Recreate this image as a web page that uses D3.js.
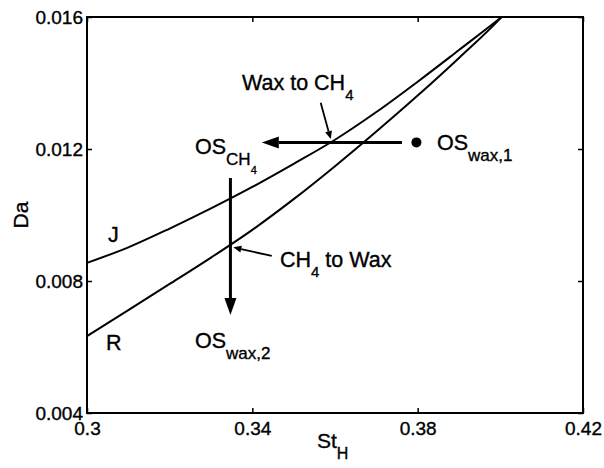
<!DOCTYPE html>
<html>
<head>
<meta charset="utf-8">
<script src="https://cdn.jsdelivr.net/npm/d3@7"></script>
<style>
  html, body { margin: 0; padding: 0; background: #fff; }
  svg text { font-family: "Liberation Sans", Arial, Helvetica, sans-serif; fill: #000; stroke: #000; stroke-width: 0.35px; }
</style>
</head>
<body>
<svg id="chart" width="604" height="468"></svg>
<script>
// ---- data ----
const stH      = [0.30, 0.31, 0.32, 0.33, 0.34, 0.35, 0.36, 0.37, 0.38, 0.39, 0.40, 0.4003];
const curveJ   = [0.00855, 0.00902, 0.00959, 0.01020, 0.01085, 0.01155, 0.01228, 0.01312, 0.01404, 0.01500, 0.01597, 0.0160];
const curveR   = [0.00633, 0.00712, 0.00791, 0.00871, 0.00955, 0.01048, 0.01148, 0.01253, 0.01362, 0.01476, 0.01596, 0.0160];
const xTicks   = [0.30, 0.34, 0.38, 0.42];
const xTickLabels = ["0.3", "0.34", "0.38", "0.42"];
const yTicks   = [0.004, 0.008, 0.012, 0.016];
const yTickLabels = ["0.004", "0.008", "0.012", "0.016"];
// operating point and transitions (St_H, Da)
const osWax1   = [0.3797, 0.0122];
const bigArrows = [
  {from: [0.3762, 0.0122], to: [0.3423, 0.0122]},   // wax -> CH4
  {from: [0.3347, 0.01112], to: [0.3347, 0.00697]}  // CH4 -> wax
];
const pointerArrows = [
  {from: [0.35654, 0.01340], to: [0.35896, 0.01230]},
  {from: [0.34469, 0.00876], to: [0.33540, 0.00902]}
];
// labels: [main, subscript, sub-subscript], anchor (St_H, Da)
const labels = [
  {parts: ["Wax to CH", "4", ""], at: [0.33750, 0.013788], kind: "inline"},
  {parts: ["OS", "CH", "4"],      at: [0.32613, 0.011848], kind: "os"},
  {parts: ["OS", "wax,1", ""],    at: [0.38468, 0.011970], kind: "os"},
  {parts: ["OS", "wax,2", ""],    at: [0.32613, 0.005970], kind: "os"},
  {parts: ["CH", "4", " to Wax"], at: [0.34669, 0.008424], kind: "inline2"},
  {parts: ["J", "", ""],          at: [0.30508, 0.009182], kind: "plain"},
  {parts: ["R", "", ""],          at: [0.30460, 0.005909], kind: "plain"}
];

// ---- layout ----
const svg = d3.select("#chart");
const L = 87, R = 583, T = 17, B = 413;
const x = d3.scaleLinear().domain([0.3, 0.42]).range([L, R]);
const y = d3.scaleLinear().domain([0.004, 0.016]).range([B, T]);

// axes
const fmtX = d => xTickLabels[xTicks.indexOf(d)];
const fmtY = d => yTickLabels[yTicks.indexOf(d)];

const gx = svg.append("g").attr("transform", `translate(0,${B})`)
  .call(d3.axisBottom(x).tickValues(xTicks).tickFormat(fmtX).tickSize(-5).tickPadding(9));
const gy = svg.append("g").attr("transform", `translate(${L},0)`)
  .call(d3.axisLeft(y).tickValues(yTicks).tickFormat(fmtY).tickSize(-5).tickPadding(4));
const gt = svg.append("g").attr("transform", `translate(0,${T})`)
  .call(d3.axisTop(x).tickValues(xTicks).tickFormat("").tickSize(-5));
const gr = svg.append("g").attr("transform", `translate(${R},0)`)
  .call(d3.axisRight(y).tickValues(yTicks).tickFormat("").tickSize(-5));
[gx, gy, gt, gr].forEach(g => {
  g.select(".domain").remove();
  g.selectAll(".tick line").attr("stroke", "#000").attr("stroke-width", 1.5);
  g.selectAll(".tick text").attr("font-size", 19).attr("font-family", "Liberation Sans, Arial, sans-serif");
});

// frame
svg.append("rect").attr("x", L).attr("y", T).attr("width", R - L).attr("height", B - T)
  .attr("fill", "none").attr("stroke", "#000").attr("stroke-width", 2);

// curves
const line = d3.line().x(d => x(d[0])).y(d => y(d[1])).curve(d3.curveMonotoneX);
[curveJ, curveR].forEach(vals => {
  svg.append("path").datum(stH.map((s, i) => [s, vals[i]]))
    .attr("d", line).attr("fill", "none").attr("stroke", "#000").attr("stroke-width", 2);
});

// arrows
function arrow(a, len, half, width) {
  const x0 = x(a.from[0]), y0 = y(a.from[1]), x1 = x(a.to[0]), y1 = y(a.to[1]);
  const ang = Math.atan2(y1 - y0, x1 - x0);
  const bx = x1 - len * Math.cos(ang), by = y1 - len * Math.sin(ang);
  svg.append("line").attr("x1", x0).attr("y1", y0).attr("x2", bx).attr("y2", by)
    .attr("stroke", "#000").attr("stroke-width", width);
  const px = -Math.sin(ang), py = Math.cos(ang);
  svg.append("polygon")
    .attr("points", [[x1, y1], [bx + half * px, by + half * py], [bx - half * px, by - half * py]].map(p => p.join(",")).join(" "))
    .attr("fill", "#000");
}
bigArrows.forEach(a => arrow(a, 17, 6, 3));
pointerArrows.forEach(a => arrow(a, 8, 3.5, 1.8));

// operating point
svg.append("circle").attr("cx", x(osWax1[0])).attr("cy", y(osWax1[1])).attr("r", 5).attr("fill", "#000");

// labels
labels.forEach(l => {
  const t = svg.append("text").attr("x", x(l.at[0])).attr("y", y(l.at[1])).attr("font-size", 21.5);
  const [a, b, c] = l.parts;
  t.append("tspan").text(a);
  if (l.kind === "os") {
    if (b) t.append("tspan").attr("font-size", 17).attr("dy", 11).text(b);
    if (c) t.append("tspan").attr("font-size", 11).attr("dy", 9).text(c);
  } else if (l.kind === "inline") {
    if (b) t.append("tspan").attr("font-size", 15).attr("dy", 10).text(b);
  } else if (l.kind === "inline2") {
    t.append("tspan").attr("font-size", 15).attr("dy", 10).text(b);
    t.append("tspan").attr("dy", -10).text(c);
  }
});

// axis titles
const xt = svg.append("text").attr("x", 317).attr("y", 448).attr("font-size", 21);
xt.append("tspan").text("St");
xt.append("tspan").attr("font-size", 16).attr("dy", 11).text("H");
svg.append("text").attr("transform", "translate(28,215) rotate(-90)")
  .attr("text-anchor", "middle").attr("font-size", 21).text("Da");
</script>
</body>
</html>
